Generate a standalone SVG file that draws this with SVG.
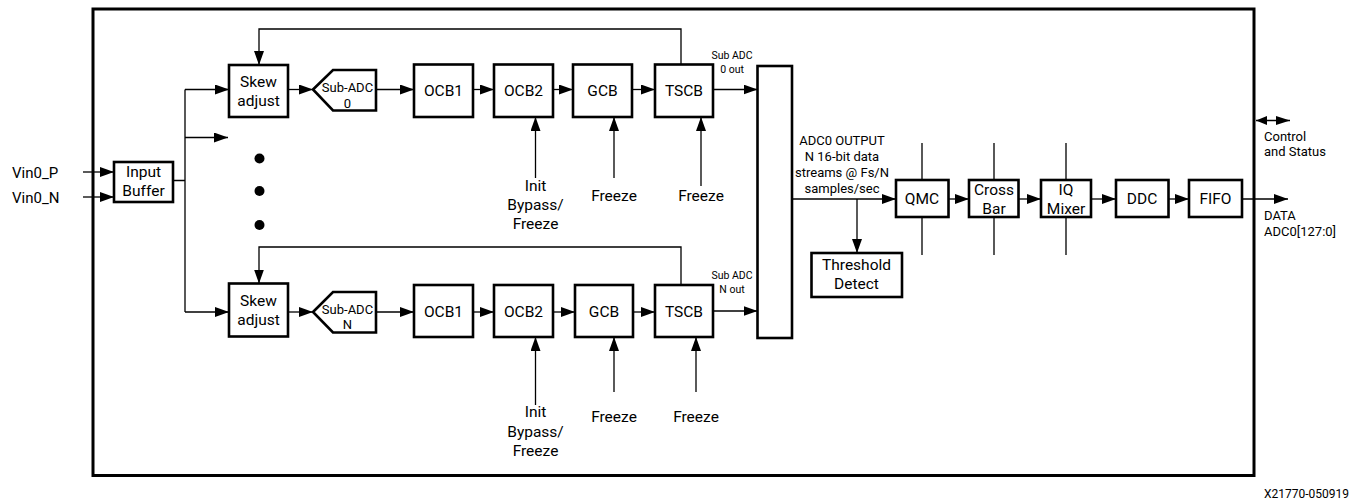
<svg xmlns="http://www.w3.org/2000/svg" width="1352" height="500" viewBox="0 0 1352 500">
<defs>
<marker id="ah" viewBox="0 0 14 10" refX="14" refY="5" markerWidth="14" markerHeight="10" markerUnits="userSpaceOnUse" orient="auto"><path d="M0,0 L14,5 L0,10 z" fill="#000"/></marker>
<marker id="sh" viewBox="0 0 14 9" refX="14" refY="4.5" markerWidth="14" markerHeight="9" markerUnits="userSpaceOnUse" orient="auto"><path d="M0,0 L14,4.5 L0,9 z" fill="#000"/></marker>
<marker id="ss" viewBox="0 0 11 9" refX="0" refY="4.5" markerWidth="11" markerHeight="9" markerUnits="userSpaceOnUse" orient="auto"><path d="M11,0 L0,4.5 L11,9 z" fill="#000"/></marker>
<style>
.b{fill:#fff;stroke:#000;stroke-width:2.6}
.c{fill:none;stroke:#000;stroke-width:1.3}
.a{marker-end:url(#ah)}
text{font-family:Roboto,"Liberation Sans",sans-serif;font-weight:400;fill:#000}
.t{font-size:15.5px;text-anchor:middle}
.s{font-size:13px;text-anchor:middle}
.x{font-size:10.5px;text-anchor:middle}
.l{font-size:13px}
</style>
</defs>
<rect width="1352" height="500" fill="#fff"/>
<rect id="frame" x="93" y="9" width="1161" height="466.5" fill="none" stroke="#000" stroke-width="3"/>

<g id="connectors">
<path class="c a" d="M83,172 H114"/>
<path class="c a" d="M83,197 H114"/>
<path class="c" d="M173,180.5 H185 M185,89.5 V312"/>
<path class="c a" d="M185,89.5 H229"/>
<path class="c a" d="M185,137.5 H228"/>
<path class="c a" d="M185,312 H229"/>
<path class="c a" d="M288,89.5 H313"/>
<path class="c a" d="M376,89.5 H414"/>
<path class="c a" d="M473,89.5 H494"/>
<path class="c a" d="M553,89.5 H573"/>
<path class="c a" d="M632,89.5 H655"/>
<path class="c a" d="M713,89.5 H757.5"/>
<path class="c a" d="M681,64.5 V29 H259 V65"/>
<path class="c a" d="M535.5,178 V117"/>
<path class="c a" d="M614,178 V117"/>
<path class="c a" d="M701,186 V117"/>
<path class="c a" d="M288,312 H313"/>
<path class="c a" d="M376,312 H414"/>
<path class="c a" d="M473,312 H494"/>
<path class="c a" d="M553,312 H575"/>
<path class="c a" d="M633,312 H655"/>
<path class="c a" d="M713,311 H757.5"/>
<path class="c a" d="M681,285 V247 H259 V283.5"/>
<path class="c a" d="M535.5,405 V337"/>
<path class="c a" d="M614,392 V337"/>
<path class="c a" d="M696,392 V337"/>
<path class="c a" d="M792,199 H896"/>
<path class="c a" d="M857,199 V253"/>
<path class="c" d="M922,143 V255 M994,143 V255 M1066,143 V255"/>
<path class="c a" d="M948.5,199 H969"/>
<path class="c a" d="M1018.5,199 H1041"/>
<path class="c a" d="M1091,199 H1116"/>
<path class="c a" d="M1168.5,199 H1189"/>
<path class="c a" d="M1242,199 H1288"/>
<path class="c" d="M1256,120.5 H1290" marker-start="url(#ss)" marker-end="url(#sh)"/>
</g>

<g id="inputs">
<text class="l" x="12" y="178" style="font-size:15px">Vin0_P</text>
<text class="l" x="12" y="202.5" style="font-size:15px">Vin0_N</text>
</g>
<g id="input-buffer"><rect class="b" x="114" y="162" width="59" height="40"/><text class="t" x="143.5" y="177">Input</text><text class="t" x="143.5" y="196">Buffer</text></g>

<g id="dots"><circle cx="259.5" cy="158.5" r="5"/><circle cx="259.5" cy="191" r="5"/><circle cx="259.5" cy="225" r="5"/></g>

<g id="skew0"><rect class="b" x="229" y="65" width="59" height="52"/><text class="t" x="258.5" y="86.5">Skew</text><text class="t" x="258.5" y="106">adjust</text></g>
<g id="subadc0"><polygon class="b" points="313,89.5 333,70 376,70 376,110.5 333,110.5"/><text class="s" x="347.5" y="92">Sub-ADC</text><text class="s" x="347.5" y="107.5">0</text></g>
<g id="ocb1-0"><rect class="b" x="414" y="64.5" width="59" height="52.5"/><text class="t" x="443.5" y="95.5">OCB1</text></g>
<g id="ocb2-0"><rect class="b" x="494" y="64.5" width="59" height="52.5"/><text class="t" x="523.5" y="95.5">OCB2</text></g>
<g id="gcb0"><rect class="b" x="573" y="64.5" width="59" height="52.5"/><text class="t" x="602.5" y="95.5">GCB</text></g>
<g id="tscb0"><rect class="b" x="655" y="64.5" width="58" height="52.5"/><text class="t" x="684" y="95.5">TSCB</text></g>
<g id="labels0">
<text class="x" x="732" y="59">Sub ADC</text><text class="x" x="732" y="72.5">0 out</text>
<text class="t" x="535.5" y="190.5">Init</text><text class="t" x="535.5" y="209.5">Bypass/</text><text class="t" x="535.5" y="228.5">Freeze</text>
<text class="t" x="614" y="200.5">Freeze</text><text class="t" x="701" y="200.5">Freeze</text>
</g>

<g id="skewN"><rect class="b" x="229" y="283.5" width="59" height="53"/><text class="t" x="258.5" y="305.5">Skew</text><text class="t" x="258.5" y="325">adjust</text></g>
<g id="subadcN"><polygon class="b" points="313,312 333,292 376,292 376,332.5 333,332.5"/><text class="s" x="347.5" y="313.5">Sub-ADC</text><text class="s" x="347.5" y="329">N</text></g>
<g id="ocb1-N"><rect class="b" x="414" y="285" width="59" height="52"/><text class="t" x="443.5" y="316.5">OCB1</text></g>
<g id="ocb2-N"><rect class="b" x="494" y="285" width="59" height="52"/><text class="t" x="523.5" y="316.5">OCB2</text></g>
<g id="gcbN"><rect class="b" x="575" y="285" width="58" height="52"/><text class="t" x="604" y="316.5">GCB</text></g>
<g id="tscbN"><rect class="b" x="655" y="285" width="58" height="52"/><text class="t" x="684" y="316.5">TSCB</text></g>
<g id="labelsN">
<text class="x" x="732" y="279">Sub ADC</text><text class="x" x="732" y="292.5">N out</text>
<text class="t" x="535.5" y="417">Init</text><text class="t" x="535.5" y="437">Bypass/</text><text class="t" x="535.5" y="456">Freeze</text>
<text class="t" x="614" y="422">Freeze</text><text class="t" x="696" y="422">Freeze</text>
</g>

<g id="combiner"><rect class="b" x="757.5" y="66" width="34.5" height="272"/></g>
<g id="adc-output-label">
<text class="s" x="842" y="144.5">ADC0 OUTPUT</text>
<text class="s" x="842" y="161">N 16-bit data</text>
<text class="s" x="842" y="177">streams @ Fs/N</text>
<text class="s" x="842" y="193">samples/sec</text>
</g>
<g id="threshold"><rect class="b" x="811.5" y="253" width="90.5" height="44"/><text class="t" x="856.5" y="269.5">Threshold</text><text class="t" x="856.5" y="289">Detect</text></g>
<g id="qmc"><rect class="b" x="896" y="180" width="52.5" height="37"/><text class="t" x="922" y="204">QMC</text></g>
<g id="crossbar"><rect class="b" x="969" y="180" width="49.5" height="37"/><text class="t" x="994" y="195">Cross</text><text class="t" x="994" y="213.5">Bar</text></g>
<g id="iqmixer"><rect class="b" x="1041" y="180" width="50" height="37"/><text class="t" x="1066" y="195">IQ</text><text class="t" x="1066" y="213.5">Mixer</text></g>
<g id="ddc"><rect class="b" x="1116" y="180" width="52.5" height="37"/><text class="t" x="1142" y="204">DDC</text></g>
<g id="fifo"><rect class="b" x="1189" y="180" width="53" height="37"/><text class="t" x="1215.5" y="204">FIFO</text></g>
<g id="right-labels">
<text class="l" x="1264" y="140.5">Control</text><text class="l" x="1264" y="156">and Status</text>
<text class="l" x="1264" y="219.5">DATA</text><text class="l" x="1264" y="236">ADC0[127:0]</text>
</g>
<text x="1349" y="498" style="font-size:12px;text-anchor:end">X21770-050919</text>
</svg>
